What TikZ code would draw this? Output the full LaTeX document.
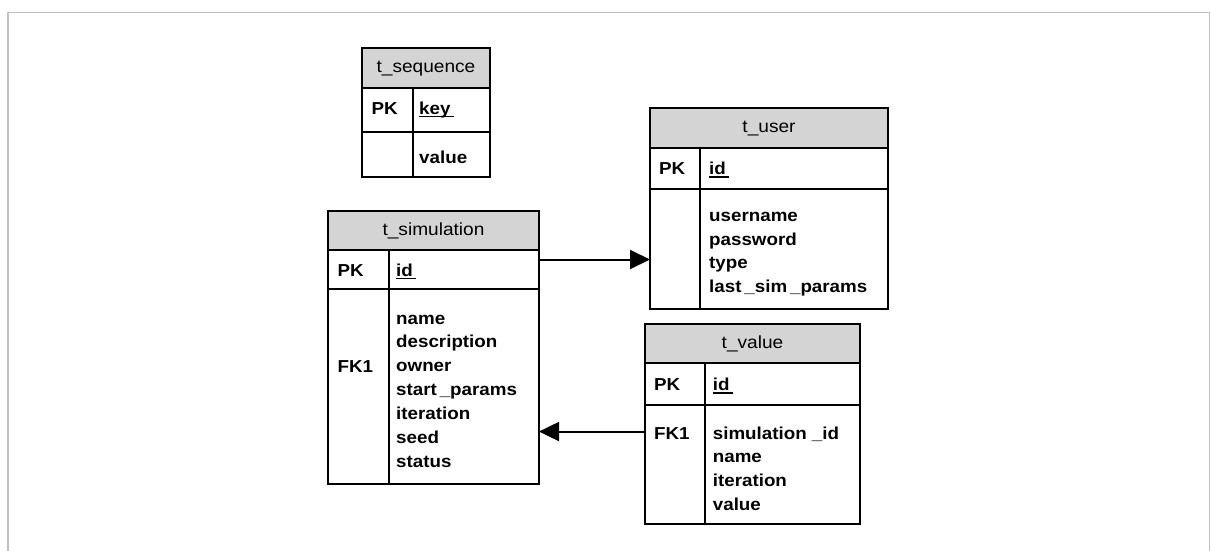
\documentclass[tikz,border=0pt]{standalone}
\usepackage{fontspec}
\setmainfont{Liberation Sans}[FakeStretch=1.085]
\usetikzlibrary{arrows.meta}
\definecolor{headgray}{HTML}{D4D4D4}
\definecolor{framegray}{HTML}{C0C0C0}
% underlined primary-key field name
\newcommand\keyname[1]{\setbox0\hbox{#1\hspace{3pt}}\rlap{\rule[-3.2pt]{\wd0}{1.7pt}}#1}
\begin{document}
\begin{tikzpicture}[x=1pt,y=-1pt,
  cell/.style={draw=black, line width=1.4pt, anchor=north west, inner sep=0pt, outer sep=0pt},
  head/.style={cell, fill=headgray},
  title/.style={font=\fontsize{17.6}{20}\selectfont, text height=12.6pt, text depth=3.6pt, inner sep=0pt},
  key/.style={font=\fontsize{17.3}{20}\selectfont\bfseries, anchor=base west, inner sep=0pt},
  field/.style={key},
  fk/.style={line width=2pt, -{Triangle[length=20pt,width=19pt]}}]
\useasboundingbox (0,0) rectangle (1211,551);

% page frame, open at the bottom
\draw[framegray, line width=1.6pt] (8,551) -- (8,12.5) -- (1209.3,12.5) -- (1209.3,551);

% ---- t_sequence ----
\node[head, minimum width=128pt, minimum height=40pt] (seqhead) at (362,48) {};
\node[cell, minimum width=51pt, minimum height=44pt] (seqpkl) at (362,88) {};
\node[cell, minimum width=77pt, minimum height=44pt] (seqpkr) at (413,88) {};
\node[cell, minimum width=51pt, minimum height=45pt] (seqbodyl) at (362,132) {};
\node[cell, minimum width=77pt, minimum height=45pt] (seqbodyr) at (413,132) {};
\node[title] (seqtitle) at (seqhead.center) {t\_sequence};
\node[key] (seqpk) at (371.5,114) {PK};
\node[field] (seqkey) at (419,114) {\keyname{key}};
\node[field] (seqval) at (419,163) {value};

% ---- t_simulation ----
\node[head, minimum width=211pt, minimum height=39pt] (simhead) at (328,211) {};
\node[cell, minimum width=61pt, minimum height=39pt] (simpkl) at (328,250) {};
\node[cell, minimum width=150pt, minimum height=39pt] (simpkr) at (389,250) {};
\node[cell, minimum width=61pt, minimum height=195pt] (simbodyl) at (328,289) {};
\node[cell, minimum width=150pt, minimum height=195pt] (simbodyr) at (389,289) {};
\node[title] (simtitle) at (simhead.center) {t\_simulation};
\node[key] (simpk) at (337.5,276) {PK};
\node[field] (simid) at (396,276) {\keyname{id}};
\node[key] (simfk) at (337.5,372) {FK1};
\foreach \t [count=\i] in {name,description,owner,start\,\_params,iteration,seed,status}
  \node[field] (simf\i) at (396,{324+23.9*(\i-1)}) {\t};

% ---- t_user ----
\node[head, minimum width=238pt, minimum height=40pt] (userhead) at (650,108) {};
\node[cell, minimum width=50pt, minimum height=41pt] (userpkl) at (650,148) {};
\node[cell, minimum width=188pt, minimum height=41pt] (userpkr) at (700,148) {};
\node[cell, minimum width=50pt, minimum height=120pt] (userbodyl) at (650,189) {};
\node[cell, minimum width=188pt, minimum height=120pt] (userbodyr) at (700,189) {};
\node[title] (usertitle) at (userhead.center) {t\_user};
\node[key] (userpk) at (659,174.5) {PK};
\node[field] (userid) at (709,174.5) {\keyname{id}};
\foreach \t [count=\i] in {username,password,type,last\,\_sim\,\_params}
  \node[field] (userf\i) at (709,{221.5+23.6*(\i-1)}) {\t};

% ---- t_value ----
\node[head, minimum width=215pt, minimum height=39pt] (valhead) at (645,324) {};
\node[cell, minimum width=60pt, minimum height=42pt] (valpkl) at (645,363) {};
\node[cell, minimum width=155pt, minimum height=42pt] (valpkr) at (705,363) {};
\node[cell, minimum width=60pt, minimum height=119pt] (valbodyl) at (645,405) {};
\node[cell, minimum width=155pt, minimum height=119pt] (valbodyr) at (705,405) {};
\node[title] (valtitle) at (valhead.center) {t\_value};
\node[key] (valpk) at (654,390.7) {PK};
\node[field] (valid) at (712.7,390.7) {\keyname{id}};
\node[key] (valfk) at (654,439) {FK1};
\foreach \t [count=\i] in {simulation \_id,name,iteration,value}
  \node[field] (valf\i) at (712.7,{439+23.7*(\i-1)}) {\t};

% ---- foreign-key references ----
\draw[fk] ([yshift=10pt]simpkr.east) -- ([yshift=10pt]simpkr.east -| userbodyl.west);
\draw[fk] ([yshift=1.5pt]valfk.center -| valbodyl.west) -- ([yshift=1.5pt]valfk.center -| simbodyr.east);
\end{tikzpicture}
\end{document}
